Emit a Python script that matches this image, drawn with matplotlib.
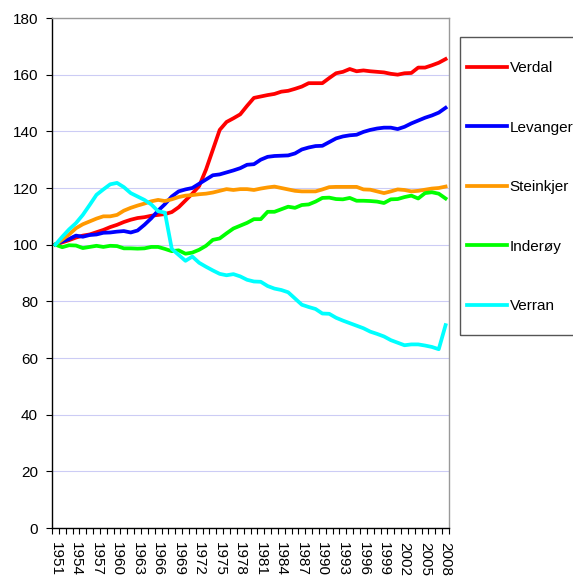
import matplotlib
matplotlib.use("Agg")
import matplotlib.pyplot as plt
from matplotlib.patches import Rectangle
from matplotlib.ticker import FixedLocator

plt.rcParams['font.family'] = ['Liberation Sans', 'DejaVu Sans']

# årstall 1951-2008, indeks 1951 = 100
years = list(range(1951, 2009))

verdal = [100, 100.8, 101.6, 102.5, 103.2, 103.6, 104.4, 105.2, 106.2, 107,
          108, 108.8, 109.4, 109.7, 110.2, 110.5, 110.8, 111.5, 113.2, 115.6,
          118, 120.7, 126.5, 133.5, 140.5, 143.3, 144.6, 146, 149, 151.8,
          152.3, 152.8, 153.2, 154, 154.3, 155, 155.8, 157, 157, 157,
          158.8, 160.5, 161, 162, 161.2, 161.5, 161.2, 161, 160.8, 160.3,
          160, 160.5, 160.6, 162.5, 162.5, 163.3, 164.2, 165.5]

levanger = [100, 101.2, 102, 103.2, 102.8, 103.4, 103.6, 104.2, 104.3, 104.6,
            104.8, 104.3, 105, 107, 109.3, 112, 114.3, 117, 118.8, 119.5,
            120, 121.5, 123, 124.5, 124.8, 125.5, 126.2, 127, 128.2, 128.4,
            130, 131, 131.3, 131.4, 131.5, 132.2, 133.6, 134.3, 134.8, 134.9,
            136.2, 137.5, 138.2, 138.6, 138.8, 139.8, 140.5, 141, 141.3, 141.3,
            140.8, 141.6, 142.8, 143.8, 144.8, 145.6, 146.6, 148.3]

steinkjer = [100, 101.8, 103.6, 105.8, 107.2, 108.2, 109.2, 110, 110, 110.5,
             112, 113, 113.8, 114.5, 115.3, 115.8, 115.4, 116, 116.8, 117.3,
             117.5, 117.8, 118, 118.4, 119, 119.6, 119.3, 119.6, 119.6, 119.3,
             119.8, 120.2, 120.5, 120, 119.5, 119, 118.8, 118.8, 118.8, 119.5,
             120.3, 120.4, 120.4, 120.4, 120.4, 119.5, 119.4, 118.8, 118.2, 118.8,
             119.5, 119.3, 118.8, 119, 119.4, 119.8, 120, 120.5]

inderoy = [100, 99.1, 99.8, 99.7, 98.8, 99.2, 99.6, 99.2, 99.6, 99.5,
           98.7, 98.7, 98.6, 98.7, 99.2, 99.2, 98.5, 97.7, 98, 96.8,
           97.2, 98.2, 99.6, 101.7, 102.2, 104, 105.7, 106.7, 107.7, 109,
           109, 111.6, 111.6, 112.5, 113.4, 113, 114, 114.2, 115.2, 116.5,
           116.6, 116.1, 116, 116.5, 115.5, 115.5, 115.4, 115.2, 114.7, 116,
           116.1, 116.8, 117.3, 116.3, 118.2, 118.5, 118, 116.3]

verran = [100, 102.8, 105.4, 107.6, 110.5, 114, 117.6, 119.5, 121.3, 121.8,
          120.3, 118.2, 117, 115.8, 114.2, 111.8, 111.3, 98.5, 96.4, 94.3,
          95.8, 93.6, 92.2, 90.9, 89.7, 89.2, 89.6, 88.8, 87.6, 87,
          86.9, 85.4, 84.5, 84, 83.2, 81, 78.8, 78, 77.3, 75.7,
          75.6, 74.2, 73.2, 72.3, 71.4, 70.5, 69.3, 68.5, 67.6, 66.3,
          65.4, 64.5, 64.8, 64.8, 64.4, 63.9, 63.1, 71.6]

series = [("Verdal", verdal, "#ff0000"),
          ("Levanger", levanger, "#0000ff"),
          ("Steinkjer", steinkjer, "#ff9900"),
          ("Inderøy", inderoy, "#00ff00"),
          ("Verran", verran, "#00ffff")]

fig = plt.figure(figsize=(5.73, 5.80), dpi=100)
ax = fig.add_axes([52 / 573, 1 - 528 / 580, 397 / 573, 510 / 580])

x = list(range(len(years)))
for name, vals, col in series:
    ax.plot(x, vals, color=col, lw=2.7, label=name, solid_joinstyle='round')

ax.set_xlim(-0.5, len(years) - 0.5)
ax.set_ylim(0, 180)
ax.set_yticks(range(0, 181, 20))
ax.yaxis.grid(True, color='#ccccf5', lw=0.8)
ax.set_axisbelow(True)

ax.set_xticks(x[::3])
ax.set_xticklabels([str(y) for y in years[::3]], rotation=-90, fontsize=11)
ax.xaxis.set_minor_locator(FixedLocator([i - 0.5 for i in range(len(years) + 1)]))
ax.tick_params(axis='x', which='major', length=0, pad=10)
ax.tick_params(axis='x', which='minor', length=4, width=0.8, direction='out')
ax.tick_params(axis='y', length=4, width=0.8, pad=6, labelsize=11)

for s in ['left', 'bottom']:
    ax.spines[s].set_color('black')
    ax.spines[s].set_linewidth(1.0)
for s in ['top', 'right']:
    ax.spines[s].set_color('#999999')
    ax.spines[s].set_linewidth(1.0)

# legendeboks
fig.patches.append(Rectangle((460 / 573, 1 - 335 / 580), 130 / 573, 298 / 580,
                             transform=fig.transFigure, fill=False,
                             edgecolor='#555555', lw=1.0))
fig.legend(loc='upper left', bbox_to_anchor=(467 / 573, 1 - 61 / 580),
           frameon=False, fontsize=11, handlelength=2.6, handletextpad=0.2,
           labelspacing=2.98, borderpad=0, borderaxespad=0)

fig.savefig("out.png", dpi=100)
